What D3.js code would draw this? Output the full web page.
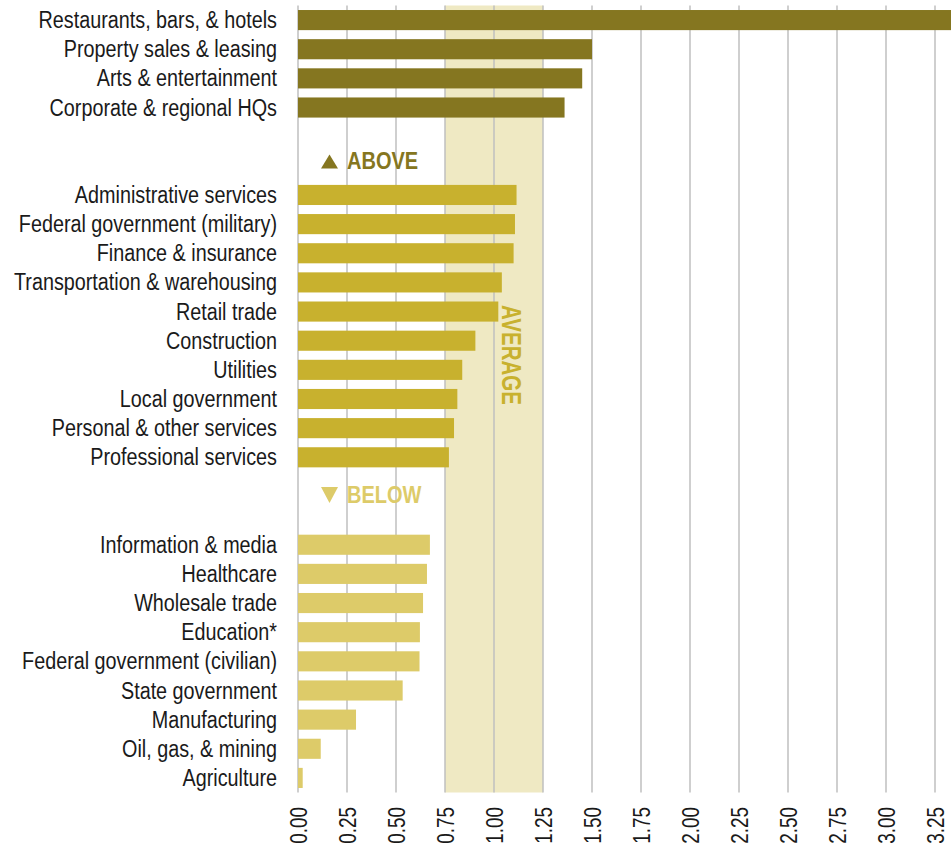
<!DOCTYPE html>
<html>
<head>
<meta charset="utf-8">
<script src="https://cdn.jsdelivr.net/npm/d3@7"></script>
<style>
  html, body { margin: 0; padding: 0; background: #fff; }
  svg { display: block; }
  text { font-family: "Liberation Sans", Arial, sans-serif; }
</style>
</head>
<body>
<svg id="chart" width="951" height="849"></svg>
<script>
// Location quotient by industry, grouped by above / below average
const aboveTop = ["Restaurants, bars, & hotels", "Property sales & leasing", "Arts & entertainment", "Corporate & regional HQs"];
const aboveTopValues = [3.45, 1.50, 1.45, 1.36];

const aboveMid = ["Administrative services", "Federal government (military)", "Finance & insurance",
  "Transportation & warehousing", "Retail trade", "Construction", "Utilities", "Local government",
  "Personal & other services", "Professional services"];
const aboveMidValues = [1.115, 1.107, 1.10, 1.04, 1.022, 0.905, 0.838, 0.813, 0.796, 0.77];

const below = ["Information & media", "Healthcare", "Wholesale trade", "Education*",
  "Federal government (civilian)", "State government", "Manufacturing", "Oil, gas, & mining", "Agriculture"];
const belowValues = [0.673, 0.658, 0.638, 0.622, 0.62, 0.534, 0.296, 0.116, 0.024];

const tickValues = [0, 0.25, 0.5, 0.75, 1.0, 1.25, 1.5, 1.75, 2.0, 2.25, 2.5, 2.75, 3.0, 3.25];
const averageBand = [0.75, 1.25];

const colors = { top: "#857620", mid: "#c8b12e", low: "#ddcb69", band: "#efe9c3", grid: "#bfbfbf", text: "#1a1a1a" };

// narrow lettering: horizontally condensed sans
const narrow = 0.86;

// rows, with two empty slots between groups for the ABOVE / BELOW markers
const rows = [
  ...aboveTop.map((c, i) => ({ key: c, value: aboveTopValues[i], color: colors.top })),
  { key: "_gapA1" }, { key: "_gapA2" },
  ...aboveMid.map((c, i) => ({ key: c, value: aboveMidValues[i], color: colors.mid })),
  { key: "_gapB1" }, { key: "_gapB2" },
  ...below.map((c, i) => ({ key: c, value: belowValues[i], color: colors.low }))
];
const bars = rows.filter(r => r.value !== undefined);

const svg = d3.select("#chart");
const x = d3.scaleLinear().domain([0, 3.25]).range([298, 935]);
const y = d3.scaleBand().domain(rows.map(r => r.key)).range([5.5, 792.5]).paddingInner(0.31).paddingOuter(0.155);

const plotTop = y.range()[0], plotBottom = y.range()[1];

// average band
svg.append("rect")
  .attr("x", x(averageBand[0]))
  .attr("y", plotTop)
  .attr("width", x(averageBand[1]) - x(averageBand[0]))
  .attr("height", plotBottom - plotTop)
  .attr("fill", colors.band);

// vertical gridlines
svg.append("g").selectAll("line").data(tickValues).join("line")
  .attr("x1", d => x(d)).attr("x2", d => x(d))
  .attr("y1", plotTop).attr("y2", plotBottom)
  .attr("stroke", colors.grid).attr("stroke-width", 1.5);

// bars
svg.append("g").selectAll("rect").data(bars).join("rect")
  .attr("x", x(0))
  .attr("y", d => y(d.key))
  .attr("height", y.bandwidth())
  .attr("width", d => x(d.value) - x(0))
  .attr("fill", d => d.color);

// category labels
svg.append("g").selectAll("text").data(bars).join("text")
  .attr("transform", d => `translate(277,${y(d.key) + y.bandwidth() / 2}) scale(${narrow},1)`)
  .attr("dy", "0.35em")
  .attr("text-anchor", "end")
  .attr("font-size", 23)
  .attr("fill", colors.text)
  .text(d => d.key);

// ABOVE / BELOW markers
const step = y.step();
const aboveY = y(aboveTop[aboveTop.length - 1]) + y.bandwidth() / 2 + step * 1.82;
const belowY = y(aboveMid[aboveMid.length - 1]) + y.bandwidth() / 2 + step * 1.28;

function marker(yc, up, label, color) {
  const g = svg.append("g").attr("transform", `translate(0,${yc})`);
  const tri = up ? "M321,8 L338,8 L329.5,-6 Z" : "M321,-7.5 L338,-7.5 L329.5,8.5 Z";
  g.append("path").attr("d", tri).attr("fill", color);
  g.append("text")
    .attr("transform", `translate(347,0) scale(0.87,1)`)
    .attr("dy", "0.36em")
    .attr("font-size", 23).attr("font-weight", "bold").attr("fill", color).text(label);
}
marker(aboveY, true, "ABOVE", colors.top);
marker(belowY, false, "BELOW", colors.low);

// AVERAGE label inside the band, reading downward
svg.append("text")
  .attr("transform", `translate(511.5,355) rotate(90) scale(0.76,1)`)
  .attr("text-anchor", "middle")
  .attr("dy", "0.36em")
  .attr("font-size", 27).attr("font-weight", "bold")
  .attr("fill", colors.mid)
  .text("AVERAGE");

// x axis tick labels, rotated
svg.append("g").selectAll("text").data(tickValues).join("text")
  .attr("transform", d => `translate(${x(d)},807) rotate(-90) scale(0.79,1)`)
  .attr("text-anchor", "end")
  .attr("dy", "0.36em")
  .attr("font-size", 24)
  .attr("fill", colors.text)
  .text(d => d3.format(".2f")(d));
</script>
</body>
</html>
